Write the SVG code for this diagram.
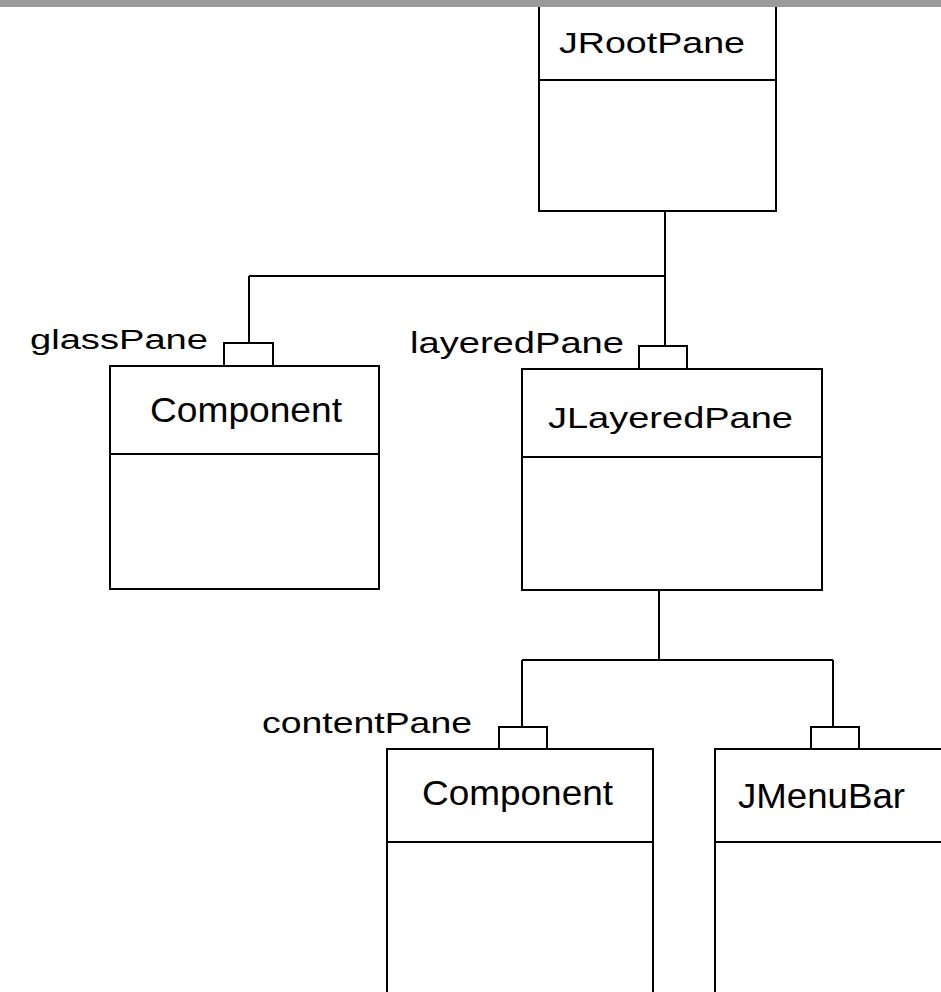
<svg xmlns="http://www.w3.org/2000/svg" width="941" height="992" viewBox="0 0 941 992">
<style>
.box{fill:#fff;stroke:#000;stroke-width:2}
.ln{fill:none;stroke:#000;stroke-width:2}
.t{font-family:"Liberation Sans",Arial,sans-serif;fill:#000}
</style>
<rect x="0" y="0" width="941" height="992" fill="#fff"/>
<g id="connectors">
<path class="ln" d="M665 211V346M249 276H665M249 276V343"/>
<path class="ln" d="M659 590V660M522 660H833M522 660V727M833 660V727"/>
</g>
<g id="JRootPane">
<rect class="box" x="539" y="-10" width="237" height="221"/>
<line class="ln" x1="539" y1="80" x2="776" y2="80"/>
<text class="t" x="559" y="53" font-size="29" textLength="186" lengthAdjust="spacingAndGlyphs">JRootPane</text>
</g>
<g id="glassComponent">
<rect class="box" x="224" y="343" width="49" height="23"/>
<rect class="box" x="110" y="366" width="269" height="223"/>
<line class="ln" x1="110" y1="454" x2="379" y2="454"/>
<text class="t" x="30" y="349" font-size="27" textLength="178" lengthAdjust="spacingAndGlyphs">glassPane</text>
<text class="t" x="150" y="422" font-size="35" textLength="192" lengthAdjust="spacingAndGlyphs">Component</text>
</g>
<g id="JLayeredPane">
<rect class="box" x="639" y="346" width="48" height="23"/>
<rect class="box" x="522" y="369" width="300" height="221"/>
<line class="ln" x1="522" y1="457" x2="822" y2="457"/>
<text class="t" x="410" y="353" font-size="30" textLength="214" lengthAdjust="spacingAndGlyphs">layeredPane</text>
<text class="t" x="548" y="428" font-size="30" textLength="245" lengthAdjust="spacingAndGlyphs">JLayeredPane</text>
</g>
<g id="contentComponent">
<rect class="box" x="499" y="727" width="48" height="22"/>
<rect class="box" x="387" y="749" width="266" height="260"/>
<line class="ln" x1="387" y1="842" x2="653" y2="842"/>
<text class="t" x="262" y="733" font-size="29" textLength="210" lengthAdjust="spacingAndGlyphs">contentPane</text>
<text class="t" x="422" y="805" font-size="35" textLength="191" lengthAdjust="spacingAndGlyphs">Component</text>
</g>
<g id="JMenuBar">
<rect class="box" x="811" y="727" width="48" height="22"/>
<rect class="box" x="715" y="749" width="250" height="260"/>
<line class="ln" x1="715" y1="842" x2="965" y2="842"/>
<text class="t" x="738" y="808" font-size="35" textLength="167" lengthAdjust="spacingAndGlyphs">JMenuBar</text>
</g>
<rect x="0" y="0" width="941" height="7" fill="#9a9a9a"/>
</svg>
